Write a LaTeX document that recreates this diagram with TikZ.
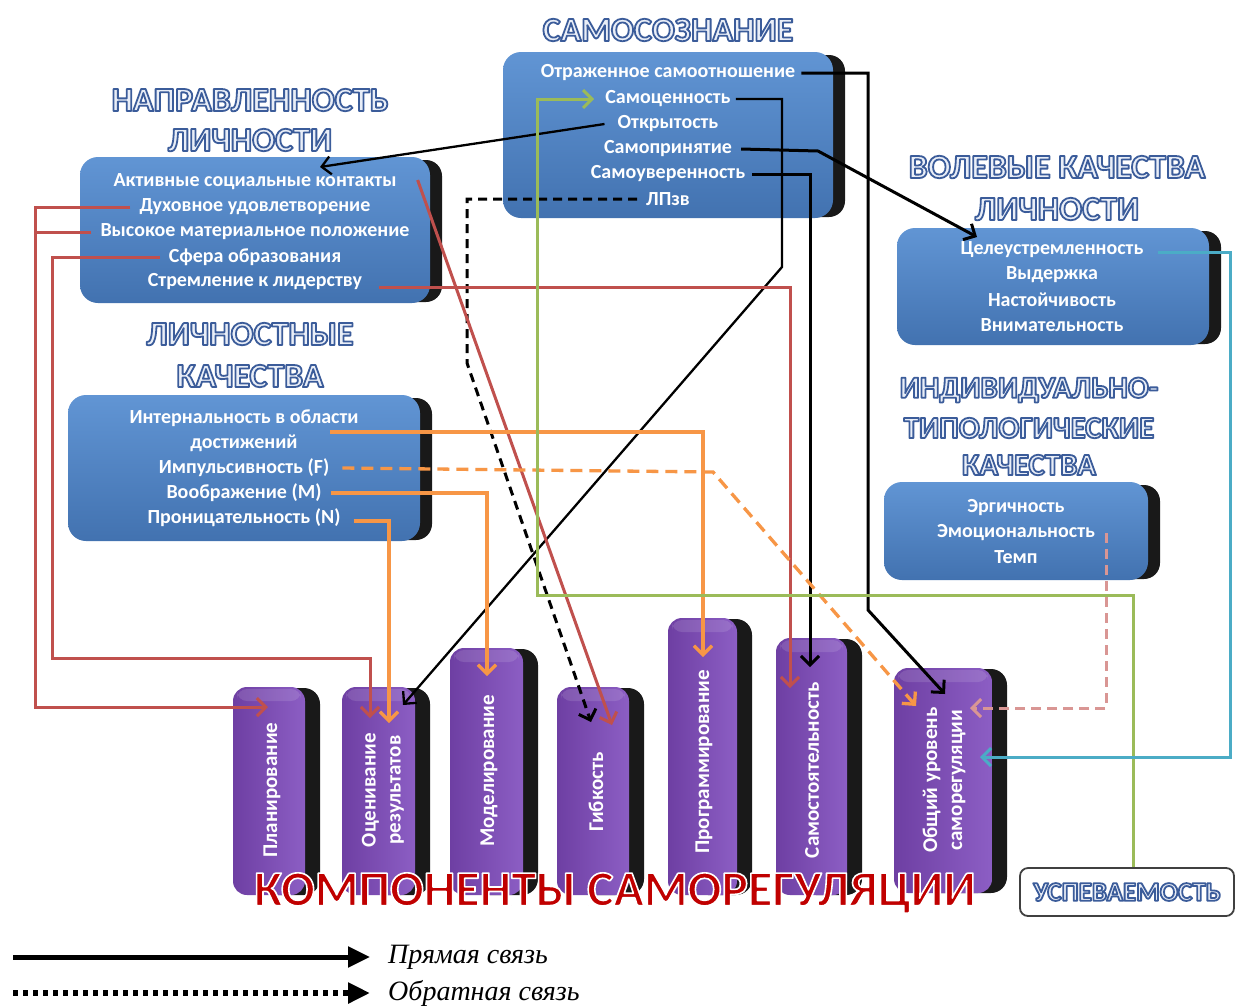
\documentclass[tikz,border=0pt]{standalone}
\usepackage{fontspec}
\setmainfont{Carlito}
\newfontfamily\legfont{Liberation Serif}
\usetikzlibrary{arrows.meta}
\definecolor{boxtop}{HTML}{6195D4}
\definecolor{boxbot}{HTML}{4272B0}
\definecolor{drumL}{HTML}{6E3FA3}
\definecolor{drumR}{HTML}{8C5EC4}
\definecolor{cred}{HTML}{C0504D}
\definecolor{corange}{HTML}{F79646}
\definecolor{cgreen}{HTML}{9BBB59}
\definecolor{cteal}{HTML}{4BACC6}
\definecolor{cpink}{HTML}{D99694}
\definecolor{titlefill}{HTML}{E9EEF7}
\definecolor{bigred}{HTML}{C00000}
% outlined text: fill colour by \color, stroke by PDF literal (text render mode 2)
\newcommand\ttlt[1]{{\color{titlefill}\special{pdf:literal direct 0.231 0.361 0.604 RG 1.8 w 1 j 2 Tr}#1\special{pdf:literal direct 0 Tr}}}
\newcommand\redttl[1]{{\color{bigred}\special{pdf:literal direct 1 1 1 RG 1.6 w 1 j 2 Tr}#1\special{pdf:literal direct 0 Tr}}}
\newcommand\bbox[4]{%
  \fill[black!90, rounded corners=16pt] (#1+30,#2+3) rectangle (#3,#4-1);
  \shade[top color=boxtop, bottom color=boxbot, rounded corners=18pt] (#1,#2) rectangle (#3-12,#4);
}
\newcommand\drumshape[4]{%
  \fill[black!90, rounded corners=16pt] (#1+24,#3+1) rectangle (#2,#4);
  \shade[left color=drumL, right color=drumR, rounded corners=14pt] (#1,#3) rectangle (#2-15,#4);
  \fill[white, opacity=0.12, rounded corners=10pt] (#1+4,#3+2) rectangle (#2-19,#3+14);
}
\begin{document}
\begin{tikzpicture}[x=1pt,y=-1pt,
  boxtxt/.style={text=white, font=\fontsize{20}{20}\selectfont\bfseries, inner sep=1pt},
  drumtxt/.style={text=white, font=\fontsize{21}{25}\selectfont\bfseries, rotate=90, align=center, inner sep=1pt},
  ttl/.style={font=\fontsize{34}{34}\selectfont\bfseries, inner sep=0pt},
  ttls/.style={font=\fontsize{31}{31}\selectfont\bfseries, inner sep=0pt},
  tip/.style={-{Straight Barb[length=9pt,width=18pt]}},
  blk/.style={tip, line width=3pt, black},
  blkthin/.style={tip, line width=2.3pt, black},
  redl/.style={tip, line width=3pt, cred},
  orl/.style={tip, line width=3.3pt, corange},
  grl/.style={tip, line width=3pt, cgreen},
  tel/.style={tip, line width=3pt, cteal},
  pkl/.style={tip, line width=3pt, cpink, dash pattern=on 10pt off 6pt},
]
\useasboundingbox (0,0) rectangle (1236,1005);
\fill[white] (0,0) rectangle (1236,1005);

% blue boxes
\bbox{503}{52}{845}{218}
\bbox{80}{157}{442}{303}
\bbox{68}{395}{432}{541}
\bbox{897}{228}{1221}{345}
\bbox{884}{482}{1160}{580}

% drums
\drumshape{233}{320}{687}{895}
\drumshape{342}{430}{687}{895}
\drumshape{450}{538}{648}{895}
\drumshape{557}{644}{687}{895}
\drumshape{668}{752}{618}{895}
\drumshape{776}{862}{638}{895}
\drumshape{894}{1007}{668}{893}

% titles
\node[ttl] (tsamo) at (668,30) {\ttlt{САМОСОЗНАНИЕ}};
\node[ttl] (tnap1) at (250,100) {\ttlt{НАПРАВЛЕННОСТЬ}};
\node[ttl] (tnap2) at (250,140) {\ttlt{ЛИЧНОСТИ}};
\node[ttl] (tvol1) at (1057,167) {\ttlt{ВОЛЕВЫЕ КАЧЕСТВА}};
\node[ttl] (tvol2) at (1057,209) {\ttlt{ЛИЧНОСТИ}};
\node[ttl] (tlich1) at (250,334) {\ttlt{ЛИЧНОСТНЫЕ}};
\node[ttl] (tlich2) at (250,376) {\ttlt{КАЧЕСТВА}};
\node[ttls] (tind1) at (1029,390) {\ttlt{ИНДИВИДУАЛЬНО-}};
\node[ttls] (tind2) at (1029,428) {\ttlt{ТИПОЛОГИЧЕСКИЕ}};
\node[ttls] (tind3) at (1029,465) {\ttlt{КАЧЕСТВА}};

% box texts
\node[boxtxt] (s1) at (668,73) {Отраженное самоотношение};
\node[boxtxt] (s2) at (668,99) {Самоценность};
\node[boxtxt] (s3) at (668,124) {Открытость};
\node[boxtxt] (s4) at (668,149) {Самопринятие};
\node[boxtxt] (s5) at (668,174) {Самоуверенность};
\node[boxtxt] (s6) at (668,199) {ЛПзв};

\node[boxtxt] (n1) at (255,182) {Активные социальные контакты};
\node[boxtxt] (n2) at (255,207) {Духовное удовлетворение};
\node[boxtxt] (n3) at (255,232) {Высокое материальное положение};
\node[boxtxt] (n4) at (255,257) {Сфера образования};
\node[boxtxt] (n5) at (255,282) {Стремление к лидерству};

\node[boxtxt] (l1a) at (244,418) {Интернальность в области};
\node[boxtxt] (l1b) at (244,443) {достижений};
\node[boxtxt] (l3) at (244,468) {Импульсивность (F)};
\node[boxtxt] (l4) at (244,493) {Воображение (M)};
\node[boxtxt] (l5) at (244,518) {Проницательность (N)};

\node[boxtxt] (v1) at (1052,250) {Целеустремленность};
\node[boxtxt] (v2) at (1052,275) {Выдержка};
\node[boxtxt] (v3) at (1052,300) {Настойчивость};
\node[boxtxt] (v4) at (1052,325) {Внимательность};

\node[boxtxt] (i1) at (1016,508) {Эргичность};
\node[boxtxt] (i2) at (1016,533) {Эмоциональность};
\node[boxtxt] (i3) at (1016,557) {Темп};

% drum labels
\node[drumtxt] (dplan) at (272,790) {Планирование};
\node[drumtxt] (docen) at (383,790) {Оценивание\\результатов};
\node[drumtxt] (dmod) at (489,771) {Моделирование};
\node[drumtxt] (dgib) at (596,792) {Гибкость};
\node[drumtxt] (dprog) at (704,762) {Программирование};
\node[drumtxt] (dsam) at (812,770) {Самостоятельность};
\node[drumtxt] (dobsh) at (944,780) {Общий уровень\\саморегуляции};

% big title
\node[font=\fontsize{50}{50}\selectfont\bfseries, inner sep=0pt] (tkomp) at (615,893) {\redttl{КОМПОНЕНТЫ САМОРЕГУЛЯЦИИ}};

% usp box
\node[draw=black!75, line width=1.8pt, fill=white, rounded corners=8pt, minimum width=214pt, minimum height=48pt, inner sep=0pt, font=\fontsize{27}{27}\selectfont\bfseries] (usp) at (1127,892) {\ttlt{УСПЕВАЕМОСТЬ}};

% target coordinates inside drums
\coordinate (tplan) at (268,707);
\coordinate (tocenr) at (370,718);
\coordinate (tocenb) at (403,705);
\coordinate (tocenor) at (389,723);
\coordinate (tmod) at (487,676);
\coordinate (tgibb) at (591,722);
\coordinate (tgibr) at (612,725);
\coordinate (tprog) at (703,657);
\coordinate (tsamr) at (790,688);
\coordinate (tsamb) at (810,667);
\coordinate (tobshb) at (945,694);
\coordinate (tobsho) at (916,706);
\coordinate (tobshp) at (970,708);
\coordinate (tobsht) at (980,757);
\coordinate (tnap) at (320,167);
\coordinate (tvol) at (977,237);
\coordinate (o1s) at (330,432);

% black connectors
\draw[blk] ([xshift=5pt]s1.east) -| (868,610) -- (tobshb);
\draw[blkthin] ([xshift=4pt]s2.east) -| (782,267) -- (tocenb);
\draw[blkthin] ([xshift=-12pt]s3.west) -- (tnap);
\draw[blk] ([xshift=8pt]s4.east) -- (818,151) -- (tvol);
\draw[blk] ([xshift=6pt]s5.east) -| (tsamb);
\draw[blk, dash pattern=on 9pt off 6pt] ([xshift=-8pt]s6.west) -| (467,363) -- (tgibb);

% red connectors
\draw[redl] ([xshift=20pt,yshift=2pt]n1.east) -- (tgibr);
\draw[redl] ([xshift=-8pt]n2.west) -| (35,707) -- (tplan);
\draw[line width=3pt, cred] ([xshift=-8pt]n3.west) -- (35,232);
\draw[redl] ([xshift=-8pt]n4.west) -| (52,658) -| (tocenr);
\draw[redl] ([xshift=16pt,yshift=-5pt]n5.east) -| (tsamr);

% orange connectors
\draw[orl] (o1s) -| (tprog);
\draw[orl, dash pattern=on 12pt off 7pt] ([xshift=12pt]l3.east) -- (713,472) -- (tobsho);
\draw[orl] ([xshift=8pt]l4.east) -| (tmod);
\draw[orl] ([xshift=12pt,yshift=-3pt]l5.east) -| (tocenor);

% green, teal, pink
\draw[grl] ([xshift=6pt]usp.north) |- (537,595) |- ([xshift=-10pt]s2.west);
\draw[tel] ([xshift=13pt,yshift=-2pt]v1.east) -| (1230,757) -- (tobsht);
\draw[pkl] ([xshift=10pt]i2.east) |- (tobshp);

% legend
\coordinate (lg1s) at (13,957);
\coordinate (lg2s) at (13,993);
\node[anchor=west, inner sep=0pt, font=\legfont\itshape\fontsize{28}{28}\selectfont] (lg1) at (388,957) {Прямая связь};
\node[anchor=west, inner sep=0pt, font=\legfont\itshape\fontsize{28}{28}\selectfont] (lg2) at (388,993) {Обратная связь};
\draw[line width=5pt, -{Triangle[length=22pt,width=20pt]}] (lg1s) -- ([xshift=-18pt]lg1.west);
\draw[line width=6pt, dash pattern=on 5pt off 5pt, -{Triangle[length=22pt,width=20pt]}] (lg2s) -- ([xshift=-18pt]lg2.west);
\end{tikzpicture}
\end{document}
